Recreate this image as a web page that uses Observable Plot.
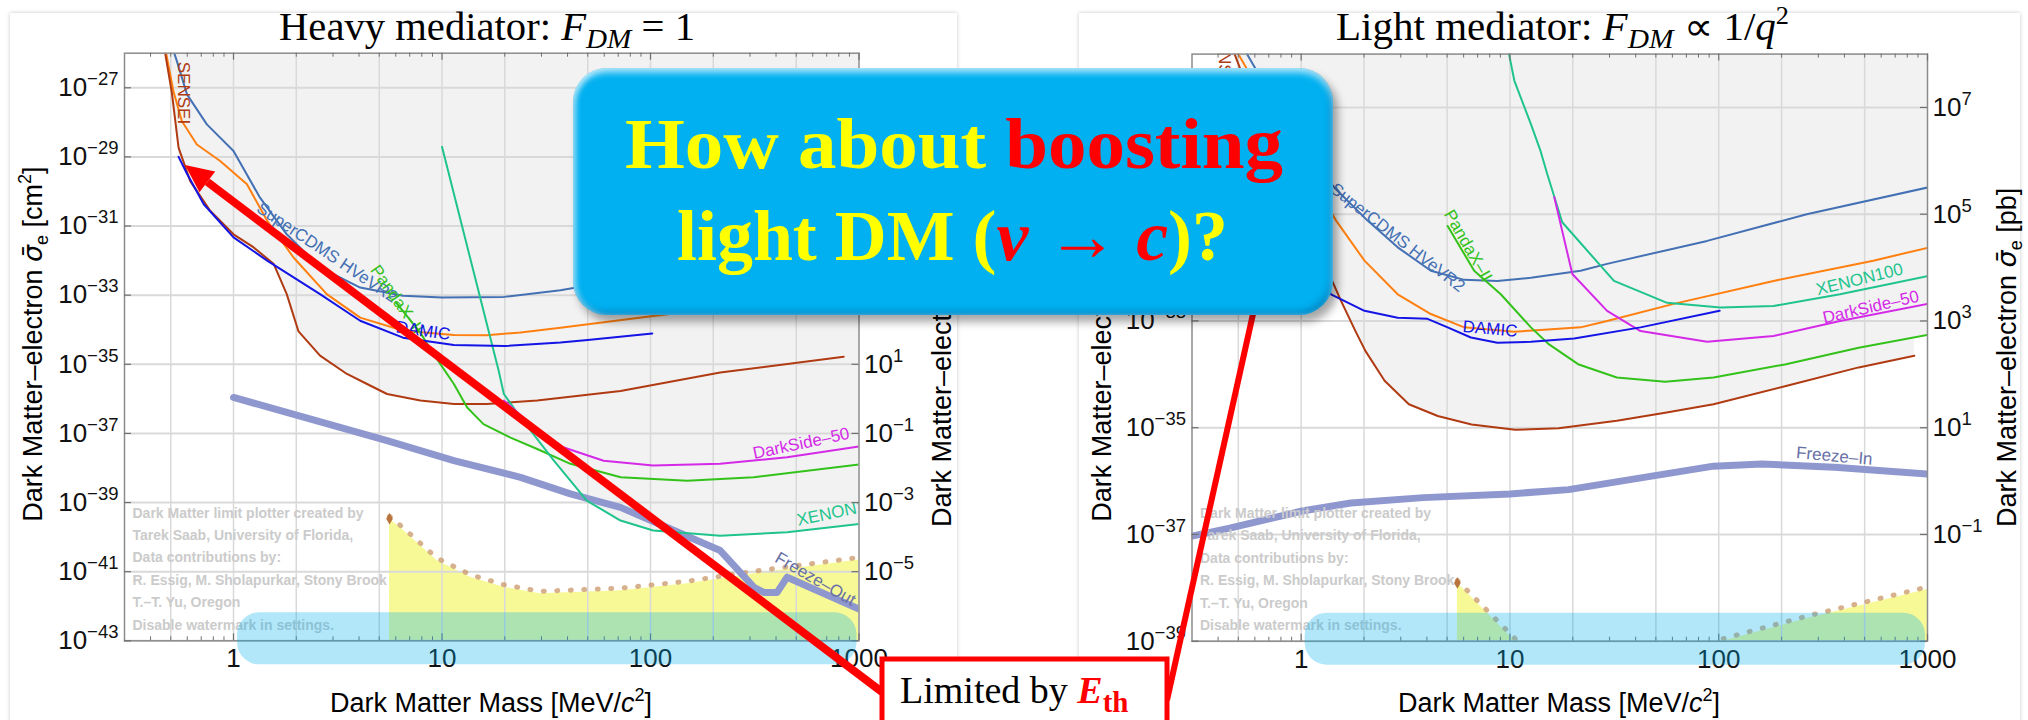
<!DOCTYPE html>
<html><head><meta charset="utf-8">
<script src="https://cdn.jsdelivr.net/npm/d3@7"></script>
<script src="https://cdn.jsdelivr.net/npm/@observablehq/plot@0.6"></script>
<style>
html,body{margin:0;padding:0;background:#fff;}
#page{position:relative;width:2028px;height:720px;overflow:hidden;background:#fff;}
.panel{position:absolute;top:13px;height:720px;background:#fff;box-shadow:0 0 4px rgba(0,0,0,0.22);}
.plotwrap{position:absolute;top:0;}
#overlay{position:absolute;left:0;top:0;}
#bigbox{position:absolute;left:573px;top:68px;width:760px;height:247px;border-radius:34px;background:#00b0f0;
 box-shadow:5px 7px 9px rgba(0,0,0,0.35), inset 0 5px 6px rgba(255,255,255,0.6), inset 4px 0 5px rgba(255,255,255,0.35), inset -3px -4px 6px rgba(0,70,130,0.35);}
#bigbox svg{position:absolute;left:0;top:0;}
</style></head>
<body><div id="page">
<div class="panel" style="left:10px;width:947px"></div>
<div class="panel" style="left:1079px;width:941px"></div>
<div class="plotwrap" id="left" style="left:0;width:1000px"></div>
<div class="plotwrap" id="right" style="left:1000px;width:1028px"></div>
<svg id="overlay" width="2028" height="720"></svg>
<div id="bigbox"><svg width="760" height="247" font-family="'Liberation Serif','Times New Roman',serif" font-weight="bold" font-size="72">
<text x="52" y="100" textLength="658" lengthAdjust="spacingAndGlyphs"><tspan fill="#ffff00">How about </tspan><tspan fill="#ff0000">boosting</tspan></text>
<text x="104" y="192" textLength="551" lengthAdjust="spacingAndGlyphs"><tspan fill="#ffff00">light DM (</tspan><tspan fill="#ff0000" font-style="italic">v</tspan><tspan fill="#ff0000"> → </tspan><tspan fill="#ff0000" font-style="italic">c</tspan><tspan fill="#ffff00">)?</tspan></text>
</svg></div>
</div>
<script>
// ---------- axis ticks ----------
const massMajor = [1, 10, 100, 1000];
const massGrid = [0.5, 1, 2, 5, 10, 20, 50, 100, 200, 500];
const massMinor = [0.4,0.5,0.6,0.7,0.8,0.9,2,3,4,5,6,7,8,9,20,30,40,50,60,70,80,90,200,300,400,500,600,700,800,900];
const heavyTicksCm = [1e-27,1e-29,1e-31,1e-33,1e-35,1e-37,1e-39,1e-41,1e-43];
const heavyLabelsPb = [1e-35,1e-37,1e-39,1e-41];
const lightTicksCm = [1e-29,1e-31,1e-33,1e-35,1e-37,1e-39];
const lightLabelsCm = [1e-33,1e-35,1e-37,1e-39];
const lightLabelsPb = [1e-29,1e-31,1e-33,1e-35,1e-37];

// ---------- Heavy mediator (F_DM = 1): [mass MeV, log10 sigma_e cm^2] ----------
const heavySensei = [[0.47,-26.0],[0.506,-27.14],[0.545,-28.73],[0.62,-29.7],[0.773,-30.56],[1.0,-31.24],[1.25,-31.62],[1.56,-32.1],[1.8,-32.97],[2.05,-34.05],[2.6,-34.75],[3.5,-35.28],[4.37,-35.57],[5.45,-35.86],[7.87,-36.05],[11.4,-36.15],[16.4,-36.15],[28.6,-36.05],[71.8,-35.77],[216,-35.24],[845,-34.78]];
const heavySuperCDMS = [[0.52,-26.0],[0.535,-26.23],[0.598,-27.19],[0.745,-28.06],[1.0,-28.83],[1.34,-30.18],[1.8,-31.24],[2.6,-32.2],[4.05,-32.78],[6.5,-33.02],[10,-33.07],[19.8,-33.05],[37,-32.86],[100,-32.4],[1000,-31.5]];
const heavyProtoSensei = [[0.475,-26.0],[0.515,-27.1],[0.565,-27.96],[0.667,-28.64],[0.863,-29.12],[1.16,-29.79],[1.45,-30.85],[1.94,-31.91],[2.8,-32.97],[4.05,-33.65],[6.54,-34.03],[11.4,-34.15],[16.4,-34.16],[23.8,-34.08],[37,-33.94],[103,-33.6],[1000,-32.9]];
const heavyDamic = [[0.545,-29.0],[0.6,-29.5],[0.72,-30.37],[1,-31.33],[1.45,-32.0],[2.6,-32.97],[4.05,-33.74],[6.5,-34.23],[11.4,-34.44],[20,-34.47],[37,-34.37],[50,-34.3],[102,-34.11]];
const heavyPandaX = [[6.0,-33.2],[7.9,-34.1],[9.1,-34.7],[11.4,-35.57],[13.2,-36.25],[15.8,-36.73],[21.3,-37.12],[28.6,-37.45],[41.3,-37.88],[72,-38.27],[150,-38.37],[313,-38.27],[1000,-37.9]];
const heavyXenon10 = [[10,-28.71],[18.7,-35.19],[19.8,-35.86],[23.8,-36.54],[34.4,-37.79],[49.6,-38.95],[71.8,-39.52],[103,-39.81],[216,-39.96],[452,-39.86],[1000,-39.62]];
const heavyDarkSide = [[19.8,-36.05],[26.5,-36.72],[38.1,-37.4],[59.6,-37.79],[103,-37.93],[216,-37.88],[452,-37.69],[1000,-37.38]];
const heavyFreezeOut = [[1.0,-35.96],[1.8,-36.39],[5.45,-37.21],[11.4,-37.79],[23.8,-38.27],[41.3,-38.75],[71.8,-39.14],[124,-39.76],[216,-40.39],[313,-41.45],[349,-41.6],[405,-41.6],[452,-41.16],[1000,-42.08]];
const heavyFloor = [[5.6,-39.47],[6.54,-39.81],[9.46,-40.68],[13.7,-41.16],[19.8,-41.45],[29.6,-41.64],[71.8,-41.55],[150,-41.35],[313,-41.06],[1000,-40.66]];

// ---------- Light mediator (F_DM ∝ 1/q^2) ----------
const lightSensei = [[0.48,-28],[0.6,-29],[0.8,-30.2],[1.1,-31.3],[1.55,-32.62],[1.82,-33.19],[2.03,-33.56],[2.51,-34.12],[3.28,-34.56],[4.51,-34.78],[6.55,-34.94],[10.6,-35.04],[17.1,-35.01],[32.5,-34.87],[55.4,-34.72],[94.4,-34.56],[210,-34.22],[468,-33.87],[865,-33.65]];
const lightSuperCDMS = [[0.55,-28],[0.7,-28.7],[1.0,-29.6],[1.44,-30.5],[2.08,-31.12],[2.9,-31.62],[4.18,-32.06],[6.04,-32.23],[8.7,-32.25],[12.6,-32.19],[21.8,-32.06],[29.2,-31.93],[88,-31.5],[264,-31.0],[1000,-30.5]];
const lightProtoSensei = [[0.5,-28],[0.7,-29.0],[1.0,-30.0],[1.47,-31.12],[2.01,-31.87],[2.9,-32.5],[4.18,-32.87],[6.04,-33.12],[10.5,-33.2],[14,-33.17],[21.8,-33.12],[29.2,-33.0],[60.9,-32.68],[183,-32.25],[550,-31.87],[1000,-31.63]];
const lightDamic = [[0.6,-29.8],[0.8,-30.8],[1.1,-31.9],[1.39,-32.5],[2.01,-32.81],[2.9,-32.94],[4.03,-32.96],[5.03,-33.12],[6.5,-33.31],[8.7,-33.41],[12.6,-33.39],[20.3,-33.33],[42.2,-33.12],[101,-32.81]];
const lightPandaX = [[5.03,-31.22],[6.74,-32.06],[9.04,-32.5],[12.6,-33.12],[15.4,-33.44],[21.2,-33.81],[32.5,-34.06],[55.4,-34.14],[94.4,-34.06],[210,-33.81],[468,-33.5],[1000,-33.26]];
const lightXenon100 = [[9.9,-28.0],[10.5,-28.5],[12.6,-29.31],[14,-29.81],[15.1,-30.25],[17.8,-31.15],[31.5,-32.25],[56.6,-32.66],[102,-32.75],[183,-32.72],[381,-32.5],[1000,-32.16]];
const lightDarkSide = [[16.3,-30.68],[19.9,-32.12],[29.2,-32.81],[42.2,-33.19],[88,-33.39],[183,-33.28],[381,-33.0],[1000,-32.68]];
const lightFreezeIn = [[0.3,-37.03],[0.455,-36.88],[1.01,-36.56],[1.73,-36.41],[3.85,-36.31],[10,-36.24],[19.1,-36.16],[42.4,-35.94],[94.4,-35.72],[161,-35.68],[358,-35.74],[1000,-35.87]];
const lightFloorLow = [[5.6,-37.91],[10.6,-39.0]];
const lightFloorHigh = [[105,-39.0],[275,-38.56],[1000,-38.03]];

// ---------- curve labels ----------
const heavyLabels = [
  {t:"SENSEI", m:0.573, e:-27.15, r:90, c:"#b03a12"},
  {t:"SuperCDMS HVeVR2", m:2.81, e:-31.77, r:34, c:"#4470b4"},
  {t:"PandaX–II", m:6.08, e:-33.12, r:55, c:"#33c21a"},
  {t:"DAMIC", m:8.11, e:-34.03, r:8, c:"#1414e6"},
  {t:"DarkSide–50", m:528, e:-37.29, r:-12, c:"#d42ae8"},
  {t:"XENON10", m:505, e:-39.52, r:-12, c:"#1fc48d", a:"start"},
  {t:"Freeze–Out", m:618, e:-41.21, r:30, c:"#6870a6"}
];
const lightLabels = [
  {t:"SENSEI", m:0.43, e:-28.12, r:90, c:"#b03a12"},
  {t:"SuperCDMS HVeVR2", m:2.9, e:-31.44, r:38, c:"#4470b4"},
  {t:"PandaX–II", m:6.3, e:-31.59, r:60, c:"#33c21a"},
  {t:"DAMIC", m:8.03, e:-33.15, r:5, c:"#1414e6"},
  {t:"XENON100", m:472, e:-32.22, r:-14, c:"#1fc48d"},
  {t:"DarkSide–50", m:535, e:-32.74, r:-13, c:"#d42ae8"},
  {t:"Freeze–In", m:358, e:-35.53, r:5, c:"#6870a6"}
];
const watermarkLines = ["Dark Matter limit plotter created by", "Tarek Saab, University of Florida,", "Data contributions by:", "R. Essig, M. Sholapurkar, Stony Brook", "T.–T. Yu, Oregon", "Disable watermark in settings."];

const COLORS = {sensei:"#b03a12", cdms:"#4470b4", proto:"#ff8010", damic:"#1414e6", pandax:"#33c21a", xenon:"#1fc48d", darkside:"#d42ae8", freeze:"#8f97cf"};

const X = d => d[0], Y = d => Math.pow(10, d[1]);
const expFmt = off => d => "10^" + (Math.round(Math.log10(d)) + off);

function makePanel(cfg) {
  const fw = cfg.width - cfg.ml - cfg.mr, fh = 720 - cfg.mt - cfg.mb;
  const top = cfg.yDomain[1], bot = cfg.yDomain[0];
  const marks = [];
  for (const c of cfg.curves) marks.push(Plot.areaY(c.data, {x: X, y1: Y, y2: top, fill: "#f2f2f2", clip: true}));
  for (const f of cfg.floors) marks.push(Plot.areaY(f, {x: X, y1: bot, y2: Y, fill: "#f7f996", clip: true}));
  marks.push(Plot.ruleX(massGrid, {stroke: "#d9d9d9", strokeWidth: 1.5}));
  marks.push(Plot.ruleY(cfg.ticksCm, {stroke: "#d9d9d9", strokeWidth: 2}));
  for (const f of cfg.floors) marks.push(Plot.line(f, {x: X, y: Y, stroke: "#c99767", strokeOpacity: 0.75, strokeWidth: 5, strokeDasharray: "1 12.5", dy: -2.5, clip: true}));
  marks.push(Plot.dot(cfg.floors[0].slice(0, 1), {x: X, y: Y, symbol: "diamond", r: 3.5, fill: "#b8743c"}));
  marks.push(Plot.line(cfg.freeze, {x: X, y: Y, stroke: COLORS.freeze, strokeWidth: 7, clip: true, strokeLinejoin: "round"}));
  for (const c of cfg.curves) marks.push(Plot.line(c.data, {x: X, y: Y, stroke: c.color, strokeWidth: 2, clip: true, strokeLinejoin: "round"}));
  for (const l of cfg.labels) marks.push(Plot.text([l], {x: "m", y: d => Math.pow(10, d.e), text: "t", rotate: l.r, fill: l.c, fontSize: 17, textAnchor: l.a || "middle", clip: true}));
  watermarkLines.forEach((line, i) => marks.push(Plot.text([line], {text: d => d, frameAnchor: "bottom-left", dx: 8, dy: -127.6 + 22.4 * i, lineAnchor: "middle", fontSize: 14, fontWeight: "bold", fill: "#cbcbcb"})));
  marks.push(Plot.frame({stroke: "#8c8c8c", strokeWidth: 1.5}));
  marks.push(Plot.tickX(massMajor, {insetBottom: fh - 7, stroke: "#707070", strokeWidth: 1.2}));
  marks.push(Plot.tickX(massMinor, {insetBottom: fh - 4, stroke: "#707070", strokeWidth: 1}));
  marks.push(Plot.tickX(massMajor, {insetTop: fh - 7, stroke: "#707070", strokeWidth: 1.2}));
  marks.push(Plot.tickX(massMinor, {insetTop: fh - 4, stroke: "#707070", strokeWidth: 1}));
  marks.push(Plot.tickY(cfg.ticksCm, {insetRight: fw - 7, stroke: "#707070", strokeWidth: 1.2}));
  marks.push(Plot.tickY(cfg.ticksCm, {insetLeft: fw - 7, stroke: "#707070", strokeWidth: 1.2}));
  marks.push(Plot.axisX(massMajor, {anchor: "bottom", tickSize: 0, tickPadding: 8, tickFormat: d => String(d), label: null}));
  marks.push(Plot.axisY(cfg.labelsCm, {anchor: "left", tickSize: 0, tickPadding: 6, tickFormat: expFmt(0), label: null}));
  marks.push(Plot.axisY(cfg.labelsPb, {anchor: "right", tickSize: 0, tickPadding: 5, tickFormat: expFmt(36), label: null}));
  const p = Plot.plot({
    width: cfg.width, height: 720,
    marginLeft: cfg.ml, marginRight: cfg.mr, marginTop: cfg.mt, marginBottom: cfg.mb,
    x: {type: "log", domain: [0.3, 1000], label: null},
    y: {type: "log", domain: cfg.yDomain, label: null},
    style: {background: "transparent", fontFamily: "'Liberation Sans', Arial, sans-serif", fontSize: "26px", color: "#111", overflow: "visible"},
    marks
  });
  // superscript powers of ten
  d3.select(p).selectAll("text").each(function () {
    const m = /^10\^(-?\d+)$/.exec(this.textContent);
    if (!m) return;
    const s = d3.select(this);
    s.text(null);
    s.append("tspan").text("10");
    s.append("tspan").attr("font-size", "18.5px").attr("dy", "-11px").text(m[1].replace("-", "\u2212"));
  });
  return p;
}

const leftPlot = makePanel({
  width: 1000, ml: 124, mr: 141.5, mt: 52.7, mb: 79.7, yDomain: [1e-43, 1e-26],
  ticksCm: heavyTicksCm, labelsCm: heavyTicksCm, labelsPb: heavyLabelsPb,
  curves: [
    {data: heavySuperCDMS, color: COLORS.cdms},
    {data: heavyProtoSensei, color: COLORS.proto},
    {data: heavySensei, color: COLORS.sensei},
    {data: heavyPandaX, color: COLORS.pandax},
    {data: heavyXenon10, color: COLORS.xenon},
    {data: heavyDarkSide, color: COLORS.darkside},
    {data: heavyDamic, color: COLORS.damic}
  ],
  floors: [heavyFloor], freeze: heavyFreezeOut, labels: heavyLabels
});
document.getElementById("left").appendChild(leftPlot);

const rightPlot = makePanel({
  width: 1028, ml: 191.5, mr: 101, mt: 53.6, mb: 79.3, yDomain: [1e-39, 1e-28],
  ticksCm: lightTicksCm, labelsCm: lightLabelsCm, labelsPb: lightLabelsPb,
  curves: [
    {data: lightSuperCDMS, color: COLORS.cdms},
    {data: lightProtoSensei, color: COLORS.proto},
    {data: lightSensei, color: COLORS.sensei},
    {data: lightPandaX, color: COLORS.pandax},
    {data: lightXenon100, color: COLORS.xenon},
    {data: lightDarkSide, color: COLORS.darkside},
    {data: lightDamic, color: COLORS.damic}
  ],
  floors: [lightFloorLow, lightFloorHigh], freeze: lightFreezeIn, labels: lightLabels
});
document.getElementById("right").appendChild(rightPlot);

// ---------- overlay annotations ----------
const ov = d3.select("#overlay");
const SANS = "'Liberation Sans', Arial, sans-serif", SERIF = "'Liberation Serif', 'Times New Roman', serif";

// highlighted mass range (1–1000 MeV), from each panel's x scale
[[leftPlot, 0, 640.3], [rightPlot, 1000, 640.7]].forEach(([p, off, fb]) => {
  const sx = p.scale("x");
  const x1 = off + sx.apply(1) + 4, x2 = off + sx.apply(1000) - 2;
  ov.append("rect").attr("x", x1).attr("y", fb - 28).attr("width", x2 - x1).attr("height", 52)
    .attr("rx", 22).attr("fill", "rgba(0,176,240,0.3)");
});

// panel titles
function title(x, len, parts) {
  const t = ov.append("text").attr("x", x).attr("y", 40).attr("font-family", SERIF).attr("font-size", 39)
    .attr("textLength", len).attr("lengthAdjust", "spacingAndGlyphs").attr("fill", "#000");
  parts(t);
}
title(279, 416, t => {
  t.append("tspan").text("Heavy mediator: ");
  t.append("tspan").attr("font-style", "italic").text("F");
  t.append("tspan").attr("font-style", "italic").attr("font-size", 28).attr("dy", 8).text("DM");
  t.append("tspan").attr("dy", -8).text(" = 1");
});
title(1336, 453, t => {
  t.append("tspan").text("Light mediator: ");
  t.append("tspan").attr("font-style", "italic").text("F");
  t.append("tspan").attr("font-style", "italic").attr("font-size", 28).attr("dy", 8).text("DM");
  t.append("tspan").attr("dy", -8).text(" ∝ 1/");
  t.append("tspan").attr("font-style", "italic").text("q");
  t.append("tspan").attr("font-size", 25).attr("dy", -16).text("2");
});

// axis titles
function yTitle(x, y, anchor, unit) {
  const t = ov.append("text").attr("transform", `translate(${x},${y}) rotate(-90)`).attr("text-anchor", anchor)
    .attr("font-family", SANS).attr("font-size", 27).attr("fill", "#000");
  t.append("tspan").text("Dark Matter–electron ");
  t.append("tspan").attr("font-style", "italic").attr("font-family", "'DejaVu Sans', sans-serif").text("σ\u0304");
  t.append("tspan").attr("font-size", 18).attr("dy", 6).text("e");
  t.append("tspan").attr("dy", -6).text(" [" + (unit === "cm" ? "cm" : "pb"));
  if (unit === "cm") t.append("tspan").attr("font-size", 18).attr("dy", -11).text("2");
  t.append("tspan").attr("dy", unit === "cm" ? 11 : 0).text("]");
}
yTitle(42, 344, "middle", "cm");
yTitle(951, 527, "start", "pb");
yTitle(1111, 344, "middle", "cm");
yTitle(2016, 527, "start", "pb");
function xTitle(cx) {
  const t = ov.append("text").attr("x", cx).attr("y", 712).attr("text-anchor", "middle")
    .attr("font-family", SANS).attr("font-size", 27).attr("fill", "#000");
  t.append("tspan").text("Dark Matter Mass [MeV/");
  t.append("tspan").attr("font-style", "italic").text("c");
  t.append("tspan").attr("font-size", 18).attr("dy", -11).text("2");
  t.append("tspan").attr("dy", 11).text("]");
}
xTitle(491);
xTitle(1559);

// red arrow (left panel) and red line (right panel)
(function () {
  const tail = [882, 692], tip = [185, 165];
  const dx = tip[0] - tail[0], dy = tip[1] - tail[1], L = Math.hypot(dx, dy);
  const ux = dx / L, uy = dy / L, nx = -uy, ny = ux;
  const hl = 28, hw = 13;
  const bx = tip[0] - ux * hl, by = tip[1] - uy * hl;
  ov.append("line").attr("x1", tail[0]).attr("y1", tail[1]).attr("x2", bx).attr("y2", by)
    .attr("stroke", "#ff0000").attr("stroke-width", 8);
  ov.append("polygon").attr("points", [[tip[0], tip[1]], [bx + nx * hw, by + ny * hw], [bx - nx * hw, by - ny * hw]].map(p => p.join(",")).join(" "))
    .attr("fill", "#ff0000");
  ov.append("line").attr("x1", 1167).attr("y1", 700).attr("x2", 1253).attr("y2", 314)
    .attr("stroke", "#ff0000").attr("stroke-width", 6);
})();

// "Limited by E_th" box
ov.append("rect").attr("x", 882).attr("y", 659).attr("width", 285).attr("height", 90)
  .attr("fill", "#fff").attr("stroke", "#ff0000").attr("stroke-width", 5);
(function () {
  const t = ov.append("text").attr("x", 900).attr("y", 703).attr("font-family", SERIF).attr("font-size", 38).attr("fill", "#000");
  t.append("tspan").text("Limited by ");
  t.append("tspan").attr("fill", "#ff0000").attr("font-weight", "bold").attr("font-style", "italic").text("E");
  t.append("tspan").attr("fill", "#ff0000").attr("font-weight", "bold").attr("font-size", 29).attr("dy", 9).text("th");
})();
</script>
</body></html>
